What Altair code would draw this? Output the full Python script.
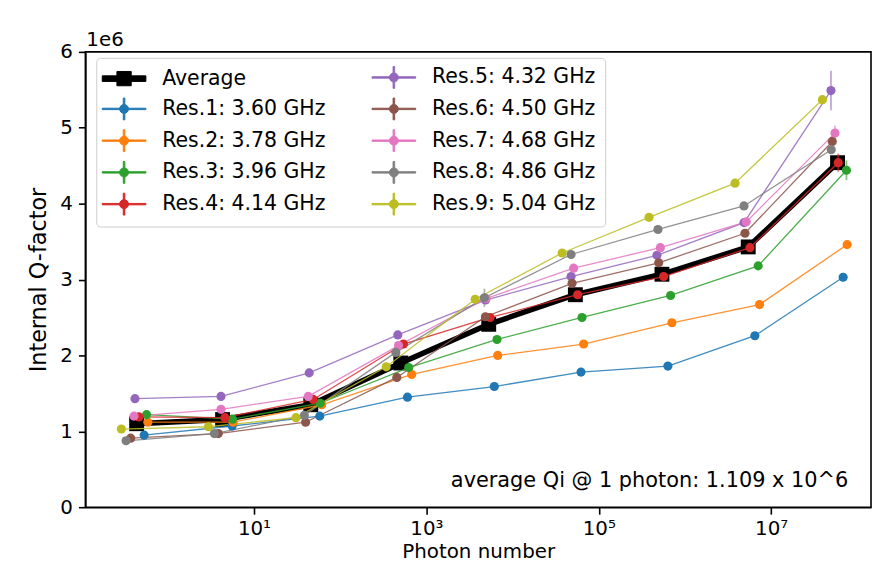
import altair as alt
import pandas as pd

FONT = "DejaVu Sans"

# ---------------- data (Qi in units of 1e6) ----------------
res_names = [
    "Res.1: 3.60 GHz", "Res.2: 3.78 GHz", "Res.3: 3.96 GHz",
    "Res.4: 4.14 GHz", "Res.5: 4.32 GHz", "Res.6: 4.50 GHz",
    "Res.7: 4.68 GHz", "Res.8: 4.86 GHz", "Res.9: 5.04 GHz",
]
res_colors = ["#1f77b4", "#ff7f0e", "#2ca02c", "#d62728", "#9467bd",
              "#8c564b", "#e377c2", "#7f7f7f", "#bcbd22"]

res_photons = [
    [0.532, 5.58, 57.9, 603, 6140, 62200, 634000, 6.47e6, 6.84e7],
    [0.587, 5.73, 61.1, 676, 6720, 66700, 705000, 7.33e6, 7.61e7],
    [0.567, 5.63, 58.6, 624, 6600, 63900, 681000, 7.07e6, 7.47e7],
    [0.463, 4.60, 48.6, 542, 5480, 56900, 566000, 5.67e6, 6.00e7],
    [0.416, 4.14, 43.7, 466, 4860, 47700, 473000, 4.84e6, 4.94e7],
    [0.371, 3.85, 39.7, 454, 4840, 49000, 496000, 4.97e6, 5.12e7],
    [0.405, 4.14, 42.6, 475, 4930, 51100, 518000, 5.14e6, 5.50e7],
    [0.328, 3.47, 38.3, 442, 4710, 47700, 486000, 4.84e6, 4.98e7],
    [0.289, 2.96, 30.7, 342, 3680, 37600, 383000, 3.81e6, 3.93e7],
]
res_qi = [
    [0.95, 1.07, 1.20, 1.45, 1.59, 1.78, 1.86, 2.26, 3.03],
    [1.12, 1.12, 1.35, 1.75, 2.00, 2.15, 2.43, 2.67, 3.46],
    [1.22, 1.16, 1.37, 1.84, 2.21, 2.50, 2.79, 3.18, 4.44],
    [1.19, 1.18, 1.42, 2.15, 2.50, 2.80, 3.04, 3.42, 4.54],
    [1.43, 1.46, 1.77, 2.27, 2.73, 3.04, 3.32, 3.75, 5.49],
    [0.91, 0.97, 1.12, 1.71, 2.51, 2.95, 3.22, 3.61, 4.82],
    [1.20, 1.29, 1.46, 2.13, 2.75, 3.15, 3.42, 3.76, 4.93],
    [0.875, 0.97, 1.21, 2.04, 2.76, 3.33, 3.66, 3.97, 4.71],
    [1.03, 1.06, 1.18, 1.85, 2.74, 3.35, 3.82, 4.27, 5.37],
]
res_err = [
    [0.01, 0.01, 0.01, 0.01, 0.01, 0.01, 0.01, 0.02, 0.03],
    [0.01, 0.01, 0.01, 0.02, 0.05, 0.02, 0.02, 0.02, 0.03],
    [0.01, 0.01, 0.01, 0.01, 0.02, 0.02, 0.02, 0.03, 0.13],
    [0.01, 0.01, 0.01, 0.02, 0.02, 0.02, 0.03, 0.03, 0.12],
    [0.01, 0.01, 0.01, 0.02, 0.03, 0.03, 0.03, 0.04, 0.26],
    [0.01, 0.01, 0.01, 0.02, 0.03, 0.03, 0.03, 0.03, 0.05],
    [0.01, 0.01, 0.01, 0.02, 0.03, 0.03, 0.03, 0.04, 0.10],
    [0.01, 0.01, 0.01, 0.04, 0.12, 0.03, 0.03, 0.03, 0.05],
    [0.01, 0.01, 0.01, 0.02, 0.05, 0.05, 0.03, 0.04, 0.05],
]
avg_photon = [0.435, 4.32, 45.6, 505, 5290, 53500, 541000, 5.42e6, 5.89e7]
avg_qi = [1.10, 1.155, 1.35, 1.90, 2.41, 2.80, 3.07, 3.43, 4.54]

x_tick_values = [10, 1000, 100000, 10000000]
y_tick_values = [0, 1, 2, 3, 4, 5, 6]
annotation_text = "average Qi @ 1 photon: 1.109 x 10^6"
offset_text = "1e6"

# ---------------- tables ----------------
rows = []
for name, ph, q, e in zip(res_names, res_photons, res_qi, res_err):
    for p, v, s in zip(ph, q, e):
        rows.append({"series": name, "photon": p, "qi": v, "lo": v - s, "hi": v + s})
res_df = pd.DataFrame(rows)
avg_df = pd.DataFrame({"series": "Average", "photon": avg_photon, "qi": avg_qi})

legend_order = ["Average"] + res_names
legend_colors = ["black"] + res_colors

RES_PATH = ("M-2.2,-0.07H2.2V0.07H-2.2Z"
            "M-0.08,-1.1H0.08V1.1H-0.08Z"
            "M0.45,0A0.45,0.45,0,1,1,-0.45,0A0.45,0.45,0,1,1,0.45,0Z")
AVG_PATH = "M-2.2,-0.28H2.2V0.28H-2.2ZM-0.72,-0.72H0.72V0.72H-0.72Z"
legend_shapes = [AVG_PATH if s == "Average" else RES_PATH for s in legend_order]

# ---------------- encodings ----------------
x_scale = alt.Scale(type="log", domain=[0.1106, 1.44e8], nice=False)
y_scale = alt.Scale(domain=[0, 6], nice=False, zero=False)

x_axis = alt.Axis(
    title="Photon number", values=x_tick_values,
    labelExpr="datum.value < 100 ? '10\u00b9' : datum.value < 10000 ? '10\u00b3' : datum.value < 1000000 ? '10\u2075' : '10\u2077'",
    grid=False, labelPadding=5, titleBaseline="alphabetic", titleY=51,
)
y_axis = alt.Axis(title="Internal Q-factor", values=y_tick_values, format="d", grid=False,
                  titleFontSize=22.5, titlePadding=9)

X = alt.X("photon:Q", scale=x_scale, axis=x_axis)
Y = alt.Y("qi:Q", scale=y_scale, axis=y_axis)
color_scale = alt.Scale(domain=legend_order, range=legend_colors)

legend_kw = dict(
    title=None, orient="none", legendX=11, legendY=6, columns=2,
    padding=9, rowPadding=5, columnPadding=44, symbolOffset=8.5, labelOffset=28,
    labelFont=FONT, labelFontSize=20.6, labelColor="black", labelLimit=400,
    strokeColor="#cccccc", fillColor="rgba(255,255,255,0.8)", cornerRadius=4,
    symbolSize=400, symbolStrokeWidth=1, symbolOpacity=1,
)

# invisible layer that only carries the legend (first, so its legend wins the merge)
legend_layer = alt.Chart(pd.concat([avg_df, res_df[["series", "photon", "qi"]]])).transform_filter(
    "false").mark_point(filled=True, size=400).encode(
    x=X, y=Y,
    color=alt.Color("series:N", scale=color_scale, legend=alt.Legend(**legend_kw)),
    shape=alt.Shape("series:N", scale=alt.Scale(domain=legend_order, range=legend_shapes),
                    legend=alt.Legend(**legend_kw)),
)

avg_line = alt.Chart(avg_df).mark_line(color="black", strokeWidth=5.5).encode(x=X, y=Y)
avg_pts = alt.Chart(avg_df).mark_point(shape="square", filled=True, size=225,
                                       color="black", opacity=1).encode(x=X, y=Y)

res_lines = alt.Chart(res_df).mark_line(strokeWidth=1.3, opacity=0.85).encode(
    x=X, y=Y, color=alt.Color("series:N", scale=color_scale, legend=None))
res_err_bars = alt.Chart(res_df).mark_rule(strokeWidth=1.8, opacity=0.6).encode(
    x=X, y=alt.Y("lo:Q", scale=y_scale, axis=y_axis), y2="hi:Q",
    color=alt.Color("series:N", scale=color_scale, legend=None))
res_pts = alt.Chart(res_df).mark_circle(size=85, opacity=1).encode(
    x=X, y=Y, color=alt.Color("series:N", scale=color_scale, legend=None))

ann = alt.Chart(pd.DataFrame({"t": [annotation_text]})).mark_text(
    align="right", baseline="alphabetic", font=FONT, fontSize=21, color="black"
).encode(x=alt.value(769), y=alt.value(439), text="t:N")

off = alt.Chart(pd.DataFrame({"t": [offset_text]})).mark_text(
    align="left", baseline="alphabetic", font=FONT, fontSize=20, color="black"
).encode(x=alt.value(1), y=alt.value(-6), text="t:N")

chart = alt.layer(legend_layer, avg_line, avg_pts, res_lines, res_err_bars, res_pts, ann, off).properties(
    width=792, height=459,
    autosize=alt.AutoSizeParams(type="none"),
    padding={"left": 78, "top": 42, "right": 1, "bottom": 53},
).configure(font=FONT).configure_view(
    stroke="black", strokeWidth=1.6
).configure_axis(
    labelFont=FONT, labelFontSize=20, labelColor="black",
    titleFont=FONT, titleFontSize=20, titleFontWeight="normal", titleColor="black",
    domainColor="black", domainWidth=1.6, tickColor="black", tickWidth=1.6, tickSize=7,
    labelPadding=6,
)

chart.save("out.html", embed_options={"renderer": "svg", "actions": False})
